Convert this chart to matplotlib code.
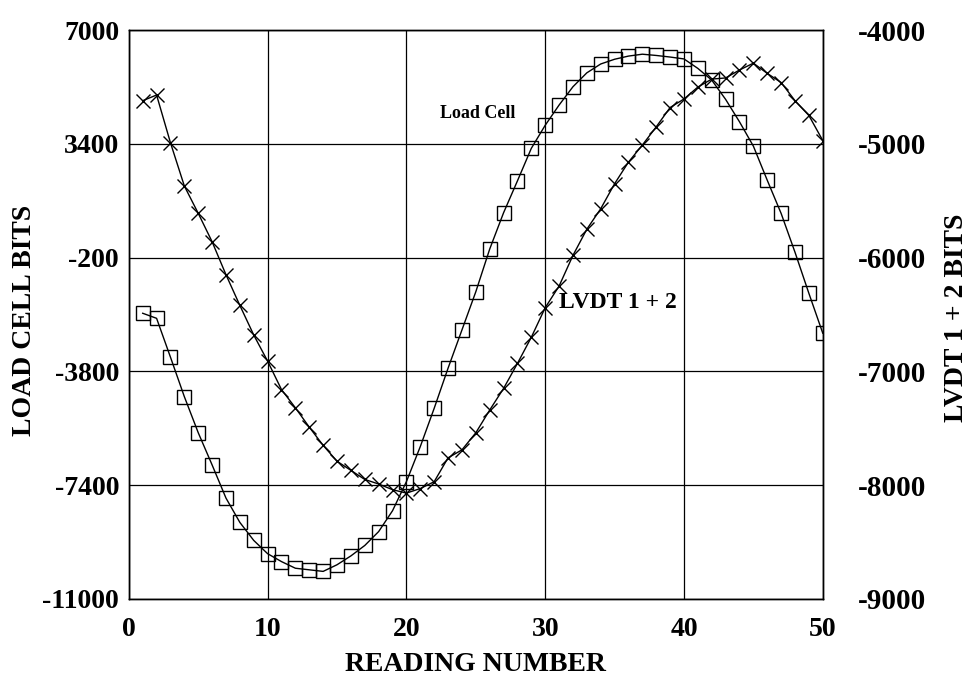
#!/usr/bin/env python
# Load cell and LVDT readings vs reading number (two y axes)

import numpy as np
import matplotlib.pyplot as plt

plt.rcParams['font.family'] = 'Liberation Serif'
plt.rcParams['font.weight'] = 'bold'
plt.rcParams['axes.labelweight'] = 'bold'
plt.rcParams['axes.unicode_minus'] = False

reading = np.arange(1, 51)

load_cell = [-1960, -2120, -3350, -4600, -5740, -6760, -7810, -8580, -9150, -9570,
             -9820, -10030, -10080, -10130, -9920, -9640, -9310, -8870, -8210, -7290,
             -6180, -4970, -3700, -2490, -1280, 70, 1220, 2230, 3260, 3990,
             4630, 5210, 5650, 5930, 6080, 6180, 6240, 6200, 6150, 6090,
             5790, 5420, 4810, 4100, 3330, 2250, 1200, -30, -1330, -2590]

lvdt = [-4620, -4570, -4990, -5370, -5610, -5860, -6150, -6420, -6680, -6910,
        -7160, -7320, -7490, -7650, -7790, -7870, -7950, -7990, -8040, -8070,
        -8030, -7970, -7760, -7690, -7540, -7340, -7150, -6930, -6700, -6440,
        -6250, -5980, -5750, -5570, -5350, -5160, -5010, -4850, -4680, -4605,
        -4500, -4430, -4420, -4350, -4290, -4380, -4460, -4620, -4750, -4970]

left_ticks = [-11000, -7400, -3800, -200, 3400, 7000]
right_ticks = [-9000, -8000, -7000, -6000, -5000, -4000]
x_ticks = [0, 10, 20, 30, 40, 50]

fig = plt.figure(figsize=(9.76, 6.86), dpi=100)
ax = fig.add_axes([0.132, 0.127, 0.711, 0.829])
ax2 = ax.twinx()

ax.plot(reading, load_cell, color='black', lw=1.0, marker='s', ms=10,
        mfc='none', mec='black', mew=1.0)
ax2.plot(reading, lvdt, color='black', lw=1.0, marker='x', ms=10, mew=1.0)

ax.set_xlim(0, 50)
ax.set_ylim(-11000, 7000)
ax2.set_ylim(-9000, -4000)
ax.set_xticks(x_ticks)
ax.set_yticks(left_ticks)
ax2.set_yticks(right_ticks)
ax.grid(True, color='black', lw=0.9)

ax.tick_params(axis='y', length=0, labelsize=20, pad=7)
ax.tick_params(axis='x', length=0, labelsize=20, pad=13)
ax2.tick_params(axis='y', length=0, labelsize=21, pad=25)
for a in (ax, ax2):
    for s in a.spines.values():
        s.set_linewidth(1.0)

ax.set_xlabel('READING NUMBER', fontsize=20, labelpad=7)
ax.set_ylabel('LOAD CELL BITS', fontsize=20)
ax2.set_ylabel('LVDT 1 + 2 BITS', fontsize=20)
# place the y labels where the reference has them (axes fraction)
ax.yaxis.set_label_coords(-0.132, 0.49)
ax2.yaxis.set_label_coords(1.174, 0.495)

ax.text(22.4, 4375, 'Load Cell', fontsize=13, ha='left', va='center')
ax2.text(31.0, -6390, 'LVDT 1 + 2', fontsize=17, ha='left', va='center')

fig.savefig('out.png', dpi=100)
